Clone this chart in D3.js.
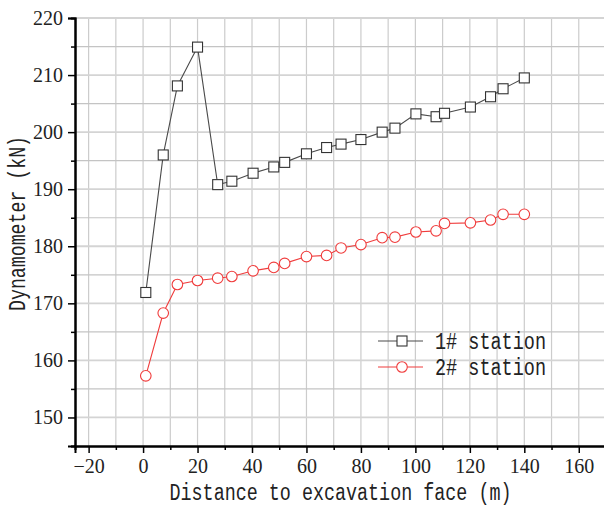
<!DOCTYPE html>
<html>
<head>
<meta charset="utf-8">
<script src="https://cdn.jsdelivr.net/npm/d3@7"></script>
<style>
  body { margin: 0; background: #fff; }
  svg { display: block; }
</style>
</head>
<body>
<svg id="chart"></svg>
<script>
// distances (m) where the dynamometers were read
var distance = [1, 7.4, 12.6, 20, 27.4, 32.6, 40.4, 48, 52, 60, 67.4, 72.7, 80, 87.8, 92.5, 100.2, 107.6, 110.7, 120.2, 127.6, 132.2, 140];
var station1 = [171.9, 196.0, 208.1, 214.9, 190.8, 191.4, 192.8, 193.9, 194.7, 196.2, 197.3, 197.9, 198.7, 200.0, 200.7, 203.2, 202.7, 203.3, 204.4, 206.2, 207.6, 209.5];
var station2 = [157.3, 168.3, 173.3, 174.0, 174.4, 174.7, 175.7, 176.3, 177.0, 178.2, 178.4, 179.7, 180.3, 181.5, 181.6, 182.5, 182.7, 184.0, 184.1, 184.6, 185.6, 185.6];
var seriesNames = ["1# station", "2# station"];
var xTicks = [-20, 0, 20, 40, 60, 80, 100, 120, 140, 160];
var yTicks = [150, 160, 170, 180, 190, 200, 210, 220];

var W = 604, H = 511;
var margin = {top: 18, right: -2, bottom: 65, left: 75};
var width = W - margin.left - margin.right,
    height = H - margin.top - margin.bottom;

var svg = d3.select("#chart").attr("width", W).attr("height", H);
var chart = svg.append("g")
    .attr("transform", "translate(" + margin.left + "," + margin.top + ")");

var x = d3.scaleLinear().domain([-25, 170]).range([0, width]);
var y = d3.scaleLinear().domain([145, 220]).range([height, 0]);

// grid, one line every 10 m and every 5 kN
var gx = d3.range(-20, 171, 10), gy = d3.range(150, 221, 5);
chart.append("g").selectAll("line").data(gx).join("line")
    .attr("x1", d => x(d)).attr("x2", d => x(d))
    .attr("y1", 0).attr("y2", height)
    .attr("stroke", "#cccccc").attr("stroke-width", 1.2);
chart.append("g").selectAll("line").data(gy).join("line")
    .attr("x1", 0).attr("x2", width + 2)
    .attr("y1", d => y(d)).attr("y2", d => y(d))
    .attr("stroke", d => d % 10 == 0 ? "#d4d4d4" : "#c4c4c4")
    .attr("stroke-width", d => d % 10 == 0 ? 1.8 : 1.2);

// axes
var xAxis = d3.axisBottom(x).tickValues(xTicks).tickSize(7).tickPadding(6)
    .tickFormat(d => d < 0 ? "\u2212" + Math.abs(d) : d);
var xMinor = d3.axisBottom(x).tickValues(d3.range(-10, 171, 20)).tickSize(4).tickFormat("");
var yAxis = d3.axisLeft(y).tickValues(yTicks).tickSize(7).tickPadding(5);
var yMinor = d3.axisLeft(y).tickValues(d3.range(145, 220, 10)).tickSize(4).tickFormat("");

[xAxis, xMinor].forEach(function(a) {
  chart.append("g").attr("class", "axis")
      .attr("transform", "translate(0," + height + ")").call(a);
});
[yAxis, yMinor].forEach(function(a) {
  chart.append("g").attr("class", "axis").call(a);
});
chart.selectAll(".axis .domain").attr("stroke", "#000").attr("stroke-width", 2);
chart.selectAll(".axis .tick line").attr("stroke", "#000").attr("stroke-width", 1.5);
chart.selectAll(".axis text")
    .attr("fill", "#222")
    .style("font-family", "'Liberation Serif', serif")
    .style("font-size", "20px");

// axis titles
chart.append("text")
    .attr("x", x(72.5)).attr("y", height + 54)
    .attr("text-anchor", "middle")
    .attr("textLength", 342).attr("lengthAdjust", "spacingAndGlyphs")
    .style("font-family", "'Liberation Mono', monospace")
    .style("font-size", "23px").attr("fill", "#222")
    .text("Distance to excavation face (m)");

chart.append("text")
    .attr("transform", "rotate(-90)")
    .attr("x", -(y(184))).attr("y", -margin.left + 25)
    .attr("text-anchor", "middle")
    .attr("textLength", 175).attr("lengthAdjust", "spacingAndGlyphs")
    .style("font-family", "'Liberation Mono', monospace")
    .style("font-size", "23px").attr("fill", "#222")
    .text("Dynamometer (kN)");

// series
var colors = ["#4a4a4a", "#f03c3c"];
var line = d3.line().x(d => x(d[0])).y(d => y(d[1]));
var sets = [station1, station2].map(s => distance.map((d, i) => [d, s[i]]));

sets.forEach(function(data, k) {
  chart.append("path")
      .datum(data)
      .attr("fill", "none")
      .attr("stroke", colors[k])
      .attr("stroke-width", 1.1)
      .attr("d", line);
});

chart.append("g").selectAll("rect").data(sets[0]).join("rect")
    .attr("x", d => x(d[0]) - 5).attr("y", d => y(d[1]) - 5)
    .attr("width", 10).attr("height", 10)
    .attr("fill", "#fff").attr("stroke", "#333").attr("stroke-width", 1.1);

chart.append("g").selectAll("circle").data(sets[1]).join("circle")
    .attr("cx", d => x(d[0])).attr("cy", d => y(d[1])).attr("r", 5.3)
    .attr("fill", "#fff").attr("stroke", colors[1]).attr("stroke-width", 1.1);

// legend
var legend = svg.append("g").attr("transform", "translate(378,341)");
seriesNames.forEach(function(name, k) {
  var g = legend.append("g").attr("transform", "translate(0," + (k * 26) + ")");
  g.append("line").attr("x1", 0).attr("x2", 45).attr("y1", 0).attr("y2", 0)
      .attr("stroke", colors[k]).attr("stroke-width", 1.1);
  if (k == 0) {
    g.append("rect").attr("x", 19).attr("y", -5).attr("width", 10).attr("height", 10)
        .attr("fill", "#fff").attr("stroke", "#333").attr("stroke-width", 1.1);
  } else {
    g.append("circle").attr("cx", 24).attr("cy", 0).attr("r", 5.3)
        .attr("fill", "#fff").attr("stroke", colors[1]).attr("stroke-width", 1.1);
  }
  g.append("text").attr("x", 57).attr("y", 8)
      .attr("textLength", 111).attr("lengthAdjust", "spacingAndGlyphs")
      .style("font-family", "'Liberation Mono', monospace")
      .style("font-size", "23px").attr("fill", "#222")
      .text(name);
});
</script>
</body>
</html>
